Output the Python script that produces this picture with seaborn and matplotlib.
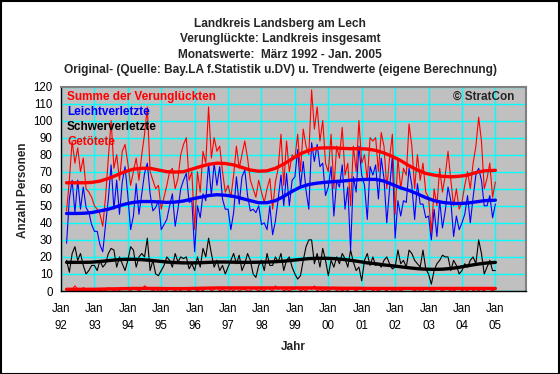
import numpy as np
import pandas as pd
import matplotlib
matplotlib.use('Agg')
import matplotlib.pyplot as plt
import seaborn as sns
from matplotlib.ticker import MultipleLocator

# Monatswerte Maerz 1992 - Jan. 2005 (Monat 0 = Jan 92)
months = list(range(2, 157))

summe = [47, 65, 88, 75, 84, 70, 78, 60, 58, 55,
         50, 48, 45, 38, 55, 78, 100, 72, 80, 65, 82, 86,
         75, 62, 70, 78, 65, 80, 92, 108, 70, 65, 60, 62,
         48, 55, 62, 70, 72, 60, 66, 80, 86, 90, 65, 70,
         36, 70, 58, 82, 75, 108, 78, 90, 82, 85, 70, 58,
         62, 55, 68, 85, 72, 80, 88, 78, 65, 60, 55, 65,
         58, 52, 60, 66, 48, 64, 72, 92, 62, 88, 70, 80,
         78, 92, 70, 95, 85, 80, 118, 95, 108, 88, 100, 75,
         70, 92, 60, 85, 78, 96, 68, 75, 50, 85, 70, 100,
         75, 80, 65, 90, 88, 90, 70, 93, 85, 60, 78, 92,
         45, 78, 60, 72, 68, 98, 85, 60, 80, 65, 75, 58,
         55, 34, 60, 50, 72, 58, 68, 82, 65, 50, 60, 48,
         52, 62, 70, 60, 75, 85, 102, 88, 60, 66, 75, 55,
         64]

leicht = [28, 54, 65, 46, 65, 48, 61, 49, 46, 39,
          35, 35, 27, 23, 39, 54, 74, 48, 65, 45, 64, 73,
          56, 36, 44, 63, 45, 57, 69, 75, 57, 47, 49, 53,
          36, 39, 42, 50, 57, 38, 48, 60, 65, 69, 52, 53,
          23, 50, 43, 57, 53, 75, 56, 75, 62, 73, 54, 48,
          48, 36, 46, 67, 51, 67, 71, 56, 47, 48, 46, 50,
          39, 40, 36, 50, 33, 41, 54, 68, 50, 69, 50, 65,
          67, 83, 61, 76, 59, 48, 87, 76, 86, 73, 75, 56,
          61, 73, 44, 65, 61, 74, 48, 61, 24, 67, 58, 85,
          68, 62, 42, 73, 68, 74, 54, 78, 66, 40, 60, 79,
          31, 53, 44, 53, 52, 72, 62, 42, 63, 51, 51, 43,
          44, 30, 48, 32, 53, 37, 47, 61, 53, 32, 44, 36,
          40, 45, 56, 40, 55, 68, 72, 65, 50, 50, 56, 43,
          51]

schwer = [18, 11, 22, 26, 18, 22, 15, 10, 12, 15,
          15, 12, 18, 14, 16, 22, 25, 24, 14, 20, 16, 12,
          18, 26, 24, 14, 20, 22, 20, 31, 12, 18, 10, 9,
          12, 15, 20, 18, 14, 22, 17, 20, 19, 20, 13, 16,
          12, 20, 14, 25, 20, 31, 22, 14, 18, 12, 15, 10,
          14, 18, 22, 16, 21, 12, 16, 22, 18, 10, 8, 15,
          18, 12, 22, 15, 15, 20, 17, 22, 12, 18, 20, 14,
          10, 7, 9, 18, 26, 30, 30, 16, 22, 14, 25, 18,
          9, 18, 14, 20, 16, 22, 19, 14, 24, 17, 12, 14,
          6, 18, 22, 15, 20, 15, 16, 14, 18, 20, 16, 13,
          14, 24, 16, 18, 14, 24, 22, 18, 16, 14, 24, 13,
          10, 4, 12, 16, 18, 21, 20, 20, 12, 18, 15, 10,
          12, 16, 14, 18, 20, 16, 30, 22, 10, 14, 18, 12,
          12]

getoetet = [1, 0, 1, 3, 1, 0, 2, 1, 0, 1,
            0, 1, 0, 1, 0, 2, 1, 0, 1, 0, 2, 1,
            1, 0, 2, 1, 0, 1, 3, 2, 1, 0, 1, 0,
            0, 1, 0, 2, 1, 0, 1, 0, 2, 1, 0, 1,
            1, 0, 1, 0, 2, 2, 0, 1, 2, 0, 1, 0,
            0, 1, 0, 2, 0, 1, 1, 0, 0, 2, 1, 0,
            1, 0, 2, 1, 0, 3, 1, 2, 0, 1, 0, 1,
            1, 2, 0, 1, 0, 2, 1, 3, 0, 1, 0, 1,
            0, 1, 2, 0, 1, 0, 1, 0, 2, 1, 0, 1,
            1, 0, 1, 2, 0, 1, 0, 1, 1, 0, 2, 0,
            0, 1, 0, 1, 2, 2, 1, 0, 1, 0, 0, 2,
            1, 0, 0, 2, 1, 0, 1, 1, 0, 0, 1, 2,
            0, 1, 0, 2, 0, 1, 0, 1, 0, 2, 1, 0,
            1]

trend_months = list(range(2, 155, 3)) + [156]

trend_summe = [63.5, 63.5, 63.5, 63.7, 64.5, 66, 68, 70, 71.5, 72,
               72, 71, 70, 69.8, 70, 71.5, 73, 74.3, 75, 74.8,
               74, 72.5, 71, 70.3, 70.5, 72, 74.5, 77.5, 80.5, 82.5,
               83.8, 84, 84, 83.7, 83.5, 83.5, 83.3, 82.5, 81, 79,
               76.5, 73.5, 71, 69, 68, 67.3, 67, 67.3, 68, 69.5,
               70.5, 70.8]

trend_leicht = [45.5, 45.5, 45.6, 46, 47, 48, 49.5, 51, 52, 52.5,
                52.5, 52.3, 52, 52.2, 52.8, 54, 55, 56, 56.5, 56.2,
                55.5, 54.3, 53, 51.8, 51.8, 53, 55.5, 58.5, 61, 62.5,
                63.3, 63.8, 64.2, 64.5, 65, 65.3, 65.5, 65.5, 64.5, 62.5,
                60.5, 59, 57, 54.8, 53, 52, 51.5, 51.3, 51.6, 52.3,
                53, 53.3]

trend_schwer = [16.8, 16.8, 16.8, 16.9, 17.3, 17.8, 18.3, 18.6, 18.6, 18.4,
                18, 17.5, 17, 16.7, 16.5, 16.5, 16.6, 16.8, 17, 17,
                16.9, 16.8, 16.8, 16.9, 17, 17.2, 17.5, 18, 18.5, 19,
                19.2, 19.2, 19, 18.6, 18, 17.3, 16.5, 16, 15.3, 14.8,
                14.2, 13.6, 13.1, 12.8, 12.7, 12.8, 13.2, 13.9, 14.8, 15.6,
                16.3, 16.8]

trend_getoetet = [1.0, 1.0, 1.0, 1.0, 1.1, 1.2, 1.3, 1.4, 1.5, 1.5,
                  1.5, 1.5, 1.4, 1.4, 1.4, 1.5, 1.6, 1.7, 1.8, 1.8,
                  1.8, 1.8, 1.8, 1.8, 1.8, 1.8, 1.8, 1.8, 1.8, 1.8,
                  1.8, 1.7, 1.7, 1.6, 1.6, 1.6, 1.5, 1.5, 1.5, 1.5,
                  1.5, 1.5, 1.5, 1.5, 1.5, 1.5, 1.5, 1.5, 1.5, 1.5,
                  1.5, 1.5]

year_labels = ['Jan\n92', 'Jan\n93', 'Jan\n94', 'Jan\n95', 'Jan\n96', 'Jan\n97', 'Jan\n98',
               'Jan\n99', 'Jan\n00', 'Jan\n01', 'Jan\n02', 'Jan\n03', 'Jan\n04', 'Jan\n05']

df = pd.DataFrame({'monat': months, 'summe': summe, 'leicht': leicht,
                   'schwer': schwer, 'getoetet': getoetet})
tr = pd.DataFrame({'monat': trend_months, 'summe': trend_summe, 'leicht': trend_leicht,
                   'schwer': trend_schwer, 'getoetet': trend_getoetet})

sns.set_style('white')
plt.rcParams['font.family'] = ['Liberation Sans', 'DejaVu Sans']

W, H = 560, 374
fig = plt.figure(figsize=(W / 100, H / 100), dpi=100)
fig.patch.set_facecolor('white')
ax = fig.add_axes([61 / W, 1 - 291 / H, (526 - 61) / W, (291 - 86.5) / H])
ax.set_facecolor('#C0C0C0')

farben = {'summe': '#FF0000', 'leicht': '#0000FF', 'schwer': '#000000', 'getoetet': '#FF0000'}
for col in ['getoetet', 'schwer', 'leicht', 'summe']:
    sns.lineplot(data=df, x='monat', y=col, ax=ax, color=farben[col], linewidth=0.8)
for col in ['getoetet', 'schwer', 'leicht', 'summe']:
    sns.lineplot(data=tr, x='monat', y=col, ax=ax, color=farben[col], linewidth=2.4)

ax.set_xlim(0, 167)
ax.set_ylim(0, 120)
ax.set_xticks(range(0, 157, 12))
ax.set_xticklabels(year_labels, linespacing=1.55)
ax.set_yticks(range(0, 121, 10))
ax.yaxis.set_minor_locator(MultipleLocator(2))
ax.xaxis.set_minor_locator(MultipleLocator(2))
ax.grid(True, which='major', color='#00FFFF', linewidth=1.0)
ax.set_axisbelow(True)
ax.tick_params(axis='both', which='major', direction='out', length=4, width=0.8,
               labelsize=8.3, colors='black')
ax.tick_params(axis='x', which='major', pad=5)
ax.tick_params(axis='y', which='major', pad=2)
ax.tick_params(axis='both', which='minor', direction='in', length=2, width=0.6)
ax.set_xlabel('')
ax.set_ylabel('')
for s in ['left', 'bottom']:
    ax.spines[s].set_color('black')
    ax.spines[s].set_linewidth(1.0)
for s in ['top', 'right']:
    ax.spines[s].set_color('#808080')
    ax.spines[s].set_linewidth(1.5)

# Titel
titel = ['Landkreis Landsberg am Lech',
         'Verunglückte: Landkreis insgesamt',
         'Monatswerte:  März 1992 - Jan. 2005',
         'Original- (Quelle: Bay.LA f.Statistik u.DV) u. Trendwerte (eigene Berechnung)']
for i, t in enumerate(titel):
    fig.text(280 / W, 1 - (24 + i * 15.3) / H, t, ha='center', va='center',
             fontsize=8.6, fontweight='bold')

# Beschriftungen im Diagramm
legende = [('Summe der Verunglückten', '#FF0000'), ('Leichtverletzte', '#0000FF'),
           ('Schwerverletzte', '#000000'), ('Getötete', '#FF0000')]
for i, (t, c) in enumerate(legende):
    fig.text(67 / W, 1 - (97 + i * 15) / H, t, ha='left', va='center',
             fontsize=8.5, fontweight='bold', color=c)
fig.text(514 / W, 1 - 97 / H, '© StratCon', ha='right', va='center',
         fontsize=8.5, fontweight='bold')

fig.text(23 / W, 1 - 190 / H, 'Anzahl Personen', rotation=90, ha='center', va='center',
         fontsize=8.5, fontweight='bold')
fig.text(293 / W, 1 - 347 / H, 'Jahr', ha='center', va='center',
         fontsize=8.5, fontweight='bold')

# Rahmen
fig.add_artist(plt.Rectangle((0.5 / W, 0.5 / H), 1 - 1.5 / W, 1 - 1.5 / H,
                             transform=fig.transFigure, fill=False,
                             edgecolor='black', linewidth=1.5))

fig.savefig('out.png', dpi=100)
